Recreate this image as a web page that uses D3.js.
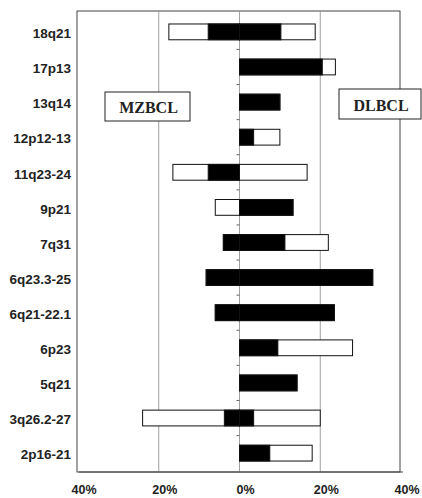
<!DOCTYPE html>
<html>
<head>
<meta charset="utf-8">
<script src="https://cdn.jsdelivr.net/npm/d3@7"></script>
<style>
  body { margin: 0; background: #fff; }
  svg { display: block; }
</style>
</head>
<body>
<script>
var w = 422;
var h = 498;

var categories = ["18q21", "17p13", "13q14", "12p12-13", "11q23-24", "9p21", "7q31",
                  "6q23.3-25", "6q21-22.1", "6p23", "5q21", "3q26.2-27", "2p16-21"];
// MZBCL (left) and DLBCL (right): black part and full bar length, in %
var mzBlack = [7.75, 0, 0, 0, 7.75, 0, 4, 8.25, 6, 0, 0, 3.75, 0];
var mzTotal = [17.5, 0, 0, 0, 16.5, 6, 4, 8.25, 6, 0, 0, 24, 0];
var dlBlack = [10.25, 20.5, 10, 3.5, 0, 13.25, 11.25, 33, 23.5, 9.5, 14.25, 3.5, 7.5];
var dlTotal = [18.75, 23.75, 10, 10, 16.75, 13.25, 22, 33, 23.5, 28, 14.25, 20, 18];
var xTicks = [-40, -20, 0, 20, 40];

var plotLeft = 78, plotRight = 401, plotTop = 11, plotBottom = 472;

var xScale = d3.scaleLinear()
               .domain([-40, 40])
               .range([plotLeft, plotRight]);

var yScale = d3.scaleBand()
               .domain(categories)
               .range([plotTop + 3.5, plotBottom - 1.5])
               .paddingInner(0.55)
               .paddingOuter(0.27);

var svg = d3.select("body")
            .append("svg")
            .attr("width", w)
            .attr("height", h);

// frame
svg.append("rect")
   .attr("x", plotLeft - 1)
   .attr("y", plotTop)
   .attr("width", plotRight - plotLeft)
   .attr("height", plotBottom - plotTop)
   .attr("fill", "none")
   .attr("stroke", "#444")
   .attr("stroke-width", 1);

// gridlines at 20%
svg.selectAll("line.grid")
   .data([-20, 0, 20])
   .enter()
   .append("line")
   .attr("class", "grid")
   .attr("x1", function(d) { return xScale(d); })
   .attr("x2", function(d) { return xScale(d); })
   .attr("y1", plotTop)
   .attr("y2", plotBottom)
   .attr("stroke", "#888")
   .attr("stroke-width", 0.8);

// small ticks on the zero line between rows
var step = yScale.step();
svg.selectAll("line.ztick")
   .data(categories.slice(1))
   .enter()
   .append("line")
   .attr("class", "ztick")
   .attr("x1", xScale(0) - 3)
   .attr("x2", xScale(0))
   .attr("y1", function(d) { return yScale(d) - (step - yScale.bandwidth()) / 2; })
   .attr("y2", function(d) { return yScale(d) - (step - yScale.bandwidth()) / 2; })
   .attr("stroke", "#666");

function bars(values, sign, fill) {
  svg.append("g")
     .selectAll("rect")
     .data(values.map(function(v, i) { return {c: categories[i], v: v}; }).filter(function(d) { return d.v > 0; }))
     .enter()
     .append("rect")
     .attr("x", function(d) { return sign < 0 ? xScale(-d.v) : xScale(0); })
     .attr("y", function(d) { return yScale(d.c); })
     .attr("width", function(d) { return Math.abs(xScale(d.v) - xScale(0)); })
     .attr("height", yScale.bandwidth())
     .attr("fill", fill)
     .attr("stroke", "#111")
     .attr("stroke-width", 1);
}

bars(mzTotal, -1, "#fff");
bars(dlTotal, 1, "#fff");
bars(mzBlack, -1, "#000");
bars(dlBlack, 1, "#000");

// category labels
svg.selectAll("text.cat")
   .data(categories)
   .enter()
   .append("text")
   .attr("class", "cat")
   .attr("x", 71)
   .attr("y", function(d) { return yScale(d) + yScale.bandwidth() / 2 + 1.5; })
   .attr("dy", "0.35em")
   .attr("text-anchor", "end")
   .attr("font-family", "Liberation Sans, Arial, sans-serif")
   .attr("font-weight", "bold")
   .attr("font-size", 13.5)
   .attr("fill", "#222")
   .text(function(d) { return d; });

// bottom axis
svg.append("line")
   .attr("x1", plotLeft + 1)
   .attr("x2", plotRight + 2)
   .attr("y1", plotBottom)
   .attr("y2", plotBottom)
   .attr("stroke", "#444");

svg.selectAll("text.xt")
   .data(xTicks)
   .enter()
   .append("text")
   .attr("class", "xt")
   .attr("x", function(d) { return xScale(d) + 6; })
   .attr("y", 494)
   .attr("text-anchor", "middle")
   .attr("font-family", "Liberation Sans, Arial, sans-serif")
   .attr("font-weight", "bold")
   .attr("font-size", 12.5)
   .attr("fill", "#222")
   .text(function(d) { return Math.abs(d) + "%"; });

// group label boxes
var boxes = [
  {label: "MZBCL", x: 105, y: 92, width: 85, height: 29},
  {label: "DLBCL", x: 339, y: 89, width: 82, height: 30}
];

var box = svg.selectAll("g.box")
             .data(boxes)
             .enter()
             .append("g")
             .attr("class", "box");

box.append("rect")
   .attr("x", function(d) { return d.x; })
   .attr("y", function(d) { return d.y; })
   .attr("width", function(d) { return d.width; })
   .attr("height", function(d) { return d.height; })
   .attr("fill", "#fff")
   .attr("stroke", "#222");

box.append("text")
   .attr("x", function(d) { return d.x + d.width / 2 + 1; })
   .attr("y", function(d) { return d.y + d.height / 2 + 1; })
   .attr("dy", "0.35em")
   .attr("text-anchor", "middle")
   .attr("font-family", "Liberation Serif, Times New Roman, serif")
   .attr("font-weight", "bold")
   .attr("font-size", 16)
   .attr("fill", "#222")
   .text(function(d) { return d.label; });
</script>
</body>
</html>
